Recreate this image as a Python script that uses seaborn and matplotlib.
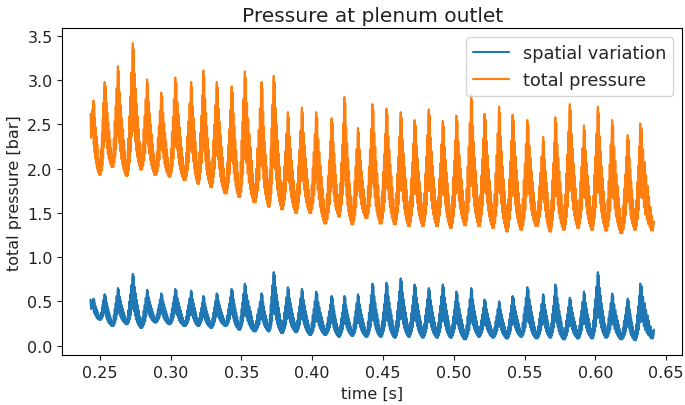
import numpy as np
import pandas as pd
import seaborn as sns
import matplotlib
matplotlib.use("Agg")
import matplotlib.pyplot as plt

# time span of the record [s]
t_start, t_end = 0.2435, 0.6415

# times of the pressure spikes [s]
peak_times = [0.2456, 0.2535, 0.2629, 0.2734, 0.2835, 0.2935, 0.3034, 0.3146,
              0.3232, 0.3327, 0.3432, 0.3525, 0.3643, 0.3729, 0.3829, 0.3928,
              0.4029, 0.4138, 0.4228, 0.4324, 0.4426, 0.4525, 0.4626, 0.4724,
              0.4824, 0.4923, 0.5019, 0.5124, 0.5218, 0.5321, 0.5416, 0.5520,
              0.5632, 0.5718, 0.5820, 0.5920, 0.6018, 0.6119, 0.6229, 0.6318]

# total pressure: spike tops, and the low before each spike (+ one after the last)
total_peaks = [2.77, 2.98, 3.16, 3.42, 3.01, 2.86, 3.03, 2.98, 3.11, 2.98,
               2.93, 3.10, 2.98, 3.05, 2.64, 2.69, 2.64, 2.57, 2.81, 2.46,
               2.73, 2.68, 2.64, 2.55, 2.67, 2.54, 2.60, 2.84, 2.62, 2.70,
               2.61, 2.55, 2.36, 2.58, 2.73, 2.49, 2.70, 2.55, 2.38, 2.51]
total_troughs = [2.30, 1.93, 2.02, 1.92, 1.99, 1.93, 1.91, 1.87, 1.83, 1.79,
                 1.72, 1.68, 1.62, 1.57, 1.54, 1.50, 1.50, 1.38, 1.46, 1.37,
                 1.44, 1.38, 1.37, 1.35, 1.35, 1.35, 1.33, 1.36, 1.35, 1.33,
                 1.29, 1.31, 1.35, 1.29, 1.31, 1.33, 1.31, 1.30, 1.27, 1.31, 1.30]
total_start, total_end = 2.62, 1.40

# spatial variation: same layout
spatial_peaks = [0.53, 0.58, 0.65, 0.81, 0.63, 0.59, 0.64, 0.62, 0.56, 0.59,
                 0.64, 0.70, 0.59, 0.83, 0.66, 0.64, 0.61, 0.56, 0.56, 0.58,
                 0.70, 0.71, 0.76, 0.69, 0.65, 0.69, 0.61, 0.65, 0.52, 0.50,
                 0.56, 0.66, 0.58, 0.69, 0.54, 0.61, 0.83, 0.59, 0.53, 0.70]
spatial_troughs = [0.40, 0.29, 0.22, 0.24, 0.20, 0.26, 0.24, 0.22, 0.22, 0.20,
                   0.22, 0.18, 0.16, 0.16, 0.14, 0.15, 0.12, 0.12, 0.10, 0.11,
                   0.10, 0.10, 0.09, 0.10, 0.09, 0.09, 0.09, 0.07, 0.10, 0.09,
                   0.08, 0.10, 0.08, 0.09, 0.07, 0.08, 0.08, 0.09, 0.07, 0.06, 0.08]
spatial_start, spatial_end = 0.52, 0.18

# shape of one spike:
# phase relative to the spike (fraction of the spacing), level between low (0) and top (1)
shape_phase = [-0.35, -0.31, -0.28, -0.24, -0.21, -0.17, -0.14, -0.10, -0.07, -0.03,
               0.00, 0.03, 0.06, 0.10, 0.13, 0.17, 0.20, 0.24, 0.27, 0.31,
               0.34, 0.38, 0.41, 0.45, 0.48, 0.52, 0.55, 0.59, 0.62]
shape_level = [0.00, 0.28, 0.04, 0.45, 0.10, 0.60, 0.18, 0.78, 0.30, 0.92,
               1.00, 0.40, 0.95, 0.30, 0.76, 0.22, 0.64, 0.15, 0.52, 0.10,
               0.42, 0.06, 0.32, 0.03, 0.22, 0.00, 0.14, 0.00, 0.05]


def build(peaks, troughs, start, end):
    t, p = [t_start], [start]
    n = len(peak_times)
    for i in range(n):
        gap_prev = peak_times[i] - peak_times[i - 1] if i > 0 else peak_times[1] - peak_times[0]
        gap_next = peak_times[i + 1] - peak_times[i] if i < n - 1 else (t_end - peak_times[i]) / 0.65
        for ph, lv in zip(shape_phase, shape_level):
            if ph < 0:
                tt = peak_times[i] + ph * gap_prev
                base = troughs[i]
            else:
                tt = peak_times[i] + ph * gap_next
                base = troughs[i + 1]
            if tt <= t_start:
                continue
            t.append(tt)
            p.append(base + lv * (peaks[i] - base))
    t.append(t_end)
    p.append(end)
    return t, p


t_sp, p_sp = build(spatial_peaks, spatial_troughs, spatial_start, spatial_end)
t_tot, p_tot = build(total_peaks, total_troughs, total_start, total_end)

df = pd.concat([
    pd.DataFrame({"time": t_sp, "pressure": p_sp, "series": "spatial variation"}),
    pd.DataFrame({"time": t_tot, "pressure": p_tot, "series": "total pressure"}),
], ignore_index=True)

sns.set_style("ticks")
plt.rcParams["font.family"] = ["DejaVu Sans"]
plt.rcParams["axes.edgecolor"] = "black"
plt.rcParams["xtick.color"] = "black"
plt.rcParams["ytick.color"] = "black"

fig = plt.figure(figsize=(6.85, 4.06), dpi=100)
ax = fig.add_axes([0.091, 0.123, 0.905, 0.805])

sns.lineplot(data=df, x="time", y="pressure", hue="series",
             hue_order=["spatial variation", "total pressure"],
             palette=["#1f77b4", "#ff7f0e"], estimator=None, sort=False,
             linewidth=1.5, ax=ax)

ax.set_xticks([0.25, 0.30, 0.35, 0.40, 0.45, 0.50, 0.55, 0.60, 0.65])
ax.set_yticks([0.0, 0.5, 1.0, 1.5, 2.0, 2.5, 3.0, 3.5])
ax.xaxis.set_major_formatter(matplotlib.ticker.FormatStrFormatter("%.2f"))
ax.yaxis.set_major_formatter(matplotlib.ticker.FormatStrFormatter("%.1f"))
ax.tick_params(labelsize=11.5, colors="#222222")
ax.set_xlabel("time [s]", fontsize=11.5, color="#222222")
ax.set_ylabel("total pressure [bar]", fontsize=11.5, color="#222222")
ax.set_title("Pressure at plenum outlet", fontsize=14.5, color="#222222", pad=5)

handles, labels = ax.get_legend_handles_labels()
ax.legend(handles, labels, loc="upper right", fontsize=12.8)

fig.savefig("out.png", dpi=100)
